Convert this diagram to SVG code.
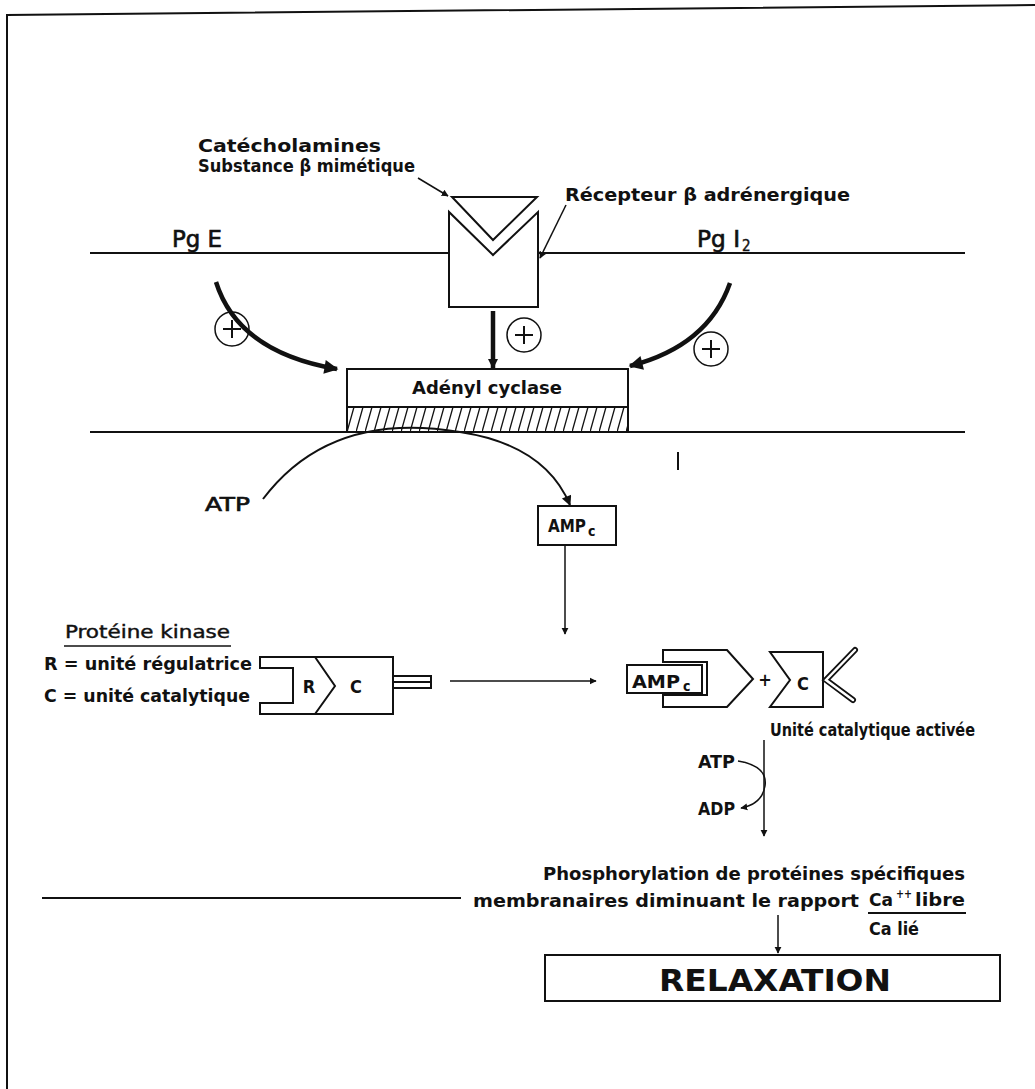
<svg xmlns="http://www.w3.org/2000/svg" width="1035" height="1089" viewBox="0 0 1035 1089">
<defs>
<style>
text{font-family:"Liberation Sans Narrow","DejaVu Sans Condensed","Liberation Sans",sans-serif;font-weight:bold;fill:#111}
text.n{font-weight:normal}
.ln{stroke:#111;fill:none;stroke-width:2}
.thin{stroke:#111;fill:none;stroke-width:1.5}
.thick{stroke:#111;fill:none;stroke-width:4.5}
.box{stroke:#111;fill:#fff;stroke-width:2}
</style>
<marker id="ah" viewBox="0 0 10 10" refX="9" refY="5" markerWidth="7" markerHeight="9" markerUnits="userSpaceOnUse" orient="auto"><path d="M0,0 L10,5 L0,10 Z" fill="#111"/></marker>
<marker id="ahB" viewBox="0 0 10 10" refX="9" refY="5" markerWidth="22" markerHeight="14" markerUnits="userSpaceOnUse" orient="auto"><path d="M0,0 L10,5 L0,10 Z" fill="#111"/></marker>
<marker id="ahM" viewBox="0 0 10 10" refX="9" refY="5" markerWidth="14" markerHeight="10" markerUnits="userSpaceOnUse" orient="auto"><path d="M0,0 L10,5 L0,10 Z" fill="#111"/></marker>
<pattern id="hatch" width="9" height="25" patternUnits="userSpaceOnUse" x="347" y="407"><line x1="0" y1="25" x2="7" y2="0" stroke="#111" stroke-width="1.3"/></pattern>
</defs>
<rect width="1035" height="1089" fill="#fff"/>
<!-- frame -->
<path d="M7,1089 L7,15 L1035,5" class="ln" stroke-width="3.5"/>
<!-- membranes -->
<line x1="90" y1="253" x2="449" y2="253" class="ln"/>
<line x1="538" y1="253" x2="965" y2="253" class="ln"/>
<line x1="90" y1="432" x2="965" y2="432" class="ln"/>

<g id="labels-top">
<text x="198" y="152" font-size="17" textLength="183" lengthAdjust="spacingAndGlyphs">Catécholamines</text>
<text x="198" y="172" font-size="17" textLength="217" lengthAdjust="spacingAndGlyphs">Substance β mimétique</text>
<text x="565" y="201" font-size="17" textLength="285" lengthAdjust="spacingAndGlyphs">Récepteur β adrénergique</text>
<text class="n" x="172" y="247" font-size="23" textLength="50" lengthAdjust="spacingAndGlyphs" stroke="#111" stroke-width="0.6">Pg E</text>
<text class="n" x="697" y="247" font-size="23" textLength="43" lengthAdjust="spacingAndGlyphs" stroke="#111" stroke-width="0.6">Pg I</text>
<text class="n" x="742" y="251" font-size="15" stroke="#111" stroke-width="0.4">2</text>
</g>

<g id="receptor">
<path d="M449,307 L449,212 L493,255 L538,212 L538,307 Z" class="box"/>
<path d="M452,197 L537,197 L493,240 Z" class="box"/>
</g>

<g id="adenyl-cyclase">
<rect x="347" y="369" width="281" height="38" class="box"/>
<rect x="347" y="407" width="281" height="25" fill="url(#hatch)" stroke="#111" stroke-width="2"/>
<text x="487" y="394" font-size="18" text-anchor="middle" textLength="150" lengthAdjust="spacingAndGlyphs">Adényl cyclase</text>
</g>

<g id="plus-signs">
<circle cx="232" cy="329" r="17" class="thin"/>
<path d="M232,320 V338 M223,329 H241" class="ln" stroke-width="2.5"/>
<circle cx="524" cy="335" r="17" class="thin"/>
<path d="M524,326 V344 M515,335 H533" class="ln" stroke-width="2.5"/>
<circle cx="711" cy="349" r="17" class="thin"/>
<path d="M711,340 V358 M702,349 H720" class="ln" stroke-width="2.5"/>
</g>

<g id="amp-box">
<rect x="538" y="506" width="78" height="39" class="box"/>
<text x="548" y="532" font-size="18" textLength="38" lengthAdjust="spacingAndGlyphs">AMP</text>
<text x="588" y="536" font-size="14">c</text>
</g>
<text class="n" x="205" y="511" font-size="19" textLength="45" lengthAdjust="spacingAndGlyphs" stroke="#111" stroke-width="0.6">ATP</text>
<line x1="678" y1="452" x2="678" y2="470" class="ln"/>

<g id="kinase-legend">
<text class="n" x="65" y="638" font-size="18" textLength="165" lengthAdjust="spacingAndGlyphs" stroke="#111" stroke-width="0.4">Protéine kinase</text>
<line x1="64" y1="646" x2="231" y2="646" class="thin"/>
<text x="44" y="670" font-size="17" textLength="208" lengthAdjust="spacingAndGlyphs">R = unité régulatrice</text>
<text x="44" y="702" font-size="17" textLength="206" lengthAdjust="spacingAndGlyphs">C = unité catalytique</text>
</g>

<g id="kinase">
<path d="M260,657 L393,657 L393,714 L260,714 L260,703 L293,703 L293,668 L260,668 Z" class="box"/>
<path d="M315,657 L335,686 L315,714" class="ln"/>
<text x="309" y="693" font-size="18" text-anchor="middle">R</text>
<text x="356" y="693" font-size="18" text-anchor="middle">C</text>
<rect x="393" y="676" width="38" height="12" class="box"/>
<line x1="393" y1="682" x2="431" y2="682" class="ln"/>
</g>

<g id="activated">
<path d="M663,650 L727,650 L753,679 L727,707 L663,707 L663,695 L707,695 L707,662 L663,662 Z" class="box"/>
<rect x="627" y="665" width="75" height="28" class="box"/>
<text x="632" y="688" font-size="18" textLength="48" lengthAdjust="spacingAndGlyphs">AMP</text>
<text x="683" y="691" font-size="14">c</text>
<text x="765" y="686" font-size="18" text-anchor="middle">+</text>
<path d="M770,652 L823,652 L823,707 L770,707 L790,680 Z" class="box"/>
<text x="803" y="690" font-size="18" text-anchor="middle">C</text>
<path d="M855,650 L826,680 L853,700" stroke="#111" stroke-width="6" fill="none" stroke-linecap="round"/>
<path d="M855,650 L826,680 L853,700" stroke="#fff" stroke-width="2.5" fill="none" stroke-linecap="round"/>
<text x="770" y="736" font-size="18" textLength="205" lengthAdjust="spacingAndGlyphs">Unité catalytique activée</text>
</g>

<g id="atp-adp">
<text x="698" y="768" font-size="17" textLength="37" lengthAdjust="spacingAndGlyphs">ATP</text>
<text x="698" y="815" font-size="17" textLength="37" lengthAdjust="spacingAndGlyphs">ADP</text>
</g>

<g id="phosphorylation">
<text x="965" y="880" font-size="17" text-anchor="end" textLength="422" lengthAdjust="spacingAndGlyphs">Phosphorylation de protéines spécifiques</text>
<text x="473" y="907" font-size="17" textLength="386" lengthAdjust="spacingAndGlyphs">membranaires diminuant le rapport</text>
<text x="869" y="906" font-size="17" textLength="24" lengthAdjust="spacingAndGlyphs">Ca</text>
<text x="896" y="898" font-size="12" textLength="16" lengthAdjust="spacingAndGlyphs">++</text>
<text x="915" y="906" font-size="17" textLength="50" lengthAdjust="spacingAndGlyphs">libre</text>
<line x1="868" y1="913" x2="966" y2="913" class="ln"/>
<text x="869" y="935" font-size="17" textLength="50" lengthAdjust="spacingAndGlyphs">Ca lié</text>
<line x1="42" y1="898" x2="461" y2="898" class="ln"/>
</g>

<g id="relaxation">
<rect x="545" y="955" width="455" height="46" class="box"/>
<text x="775" y="991" font-size="31" text-anchor="middle" textLength="232" lengthAdjust="spacingAndGlyphs">RELAXATION</text>
</g>

<g id="connectors">
<path d="M418,178 L448,196" class="thin" marker-end="url(#ah)"/>
<path d="M566,205 L540,258" class="thin" marker-end="url(#ah)"/>
<path d="M493,311 L493,368" class="thick" marker-end="url(#ahM)"/>
<path d="M216,282 Q238,352 337,369" class="thick" marker-end="url(#ahB)"/>
<path d="M730,283 Q708,346 630,366" class="thick" marker-end="url(#ahB)"/>
<path d="M263,499 Q330,410 460,432 Q545,445 570,505" class="ln" stroke-width="3" marker-end="url(#ahM)"/>
<path d="M565,545 L565,634" class="thin" marker-end="url(#ah)"/>
<path d="M450,681 L596,681" class="thin" marker-end="url(#ah)"/>
<path d="M764,740 L764,836" class="thin" marker-end="url(#ah)"/>
<path d="M738,761 Q768,766 765,786 Q762,804 741,808" class="thin" marker-end="url(#ah)"/>
<path d="M778,915 L778,953" class="thin" marker-end="url(#ah)"/>
</g>
</svg>
